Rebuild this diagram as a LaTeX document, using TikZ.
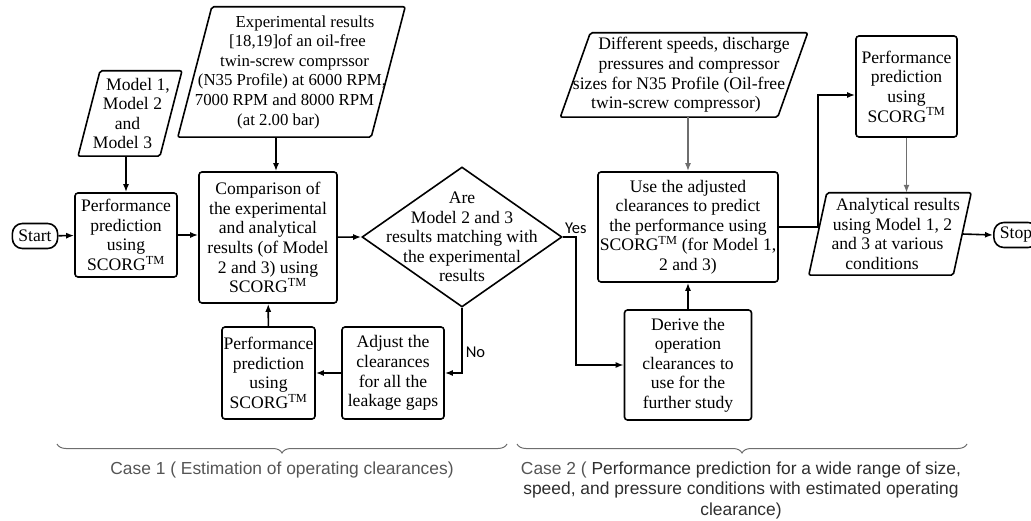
\documentclass[tikz,border=0pt]{standalone}
\usepackage{fontspec}
\setmainfont{Liberation Serif}
\newfontfamily\casefont{Liberation Sans}
\newfontfamily\yesnofont{Carlito}
\usetikzlibrary{arrows.meta,decorations.pathreplacing,shapes.geometric}

\definecolor{greyline}{HTML}{6E6E6E}
\definecolor{casegrey}{HTML}{555555}
\definecolor{casedark}{HTML}{2E2E2E}

\newcommand{\flowfont}{\fontsize{17.6}{19.6}\selectfont}
\newcommand{\scorg}{SCORG\textsuperscript{TM}}
% slanted frame round an io node: node name, half of the slant
\newcommand{\ioframe}[2]{\draw[line width=1.6pt,rounded corners=2pt] ([xshift=-#2pt]#1.south west) -- ([xshift=-#2pt]#1.south east) -- ([xshift=#2pt]#1.north east) -- ([xshift=#2pt]#1.north west) -- cycle;}
% moves one centred line sideways by half of #1
\newcommand{\nudge}[1]{\hspace*{#1pt}}

\tikzset{
	box/.style={draw,rectangle,rounded corners=3pt,line width=1.6pt,align=center,inner sep=1pt,font=\flowfont},
	term/.style={draw,rectangle,rounded corners=10pt,line width=1.6pt,minimum height=25pt,inner xsep=6pt,inner ysep=2pt,font=\flowfont},
	io/.style={rectangle,align=center,inner sep=1pt,font=\flowfont},
	ask/.style={draw,diamond,line width=1.6pt,inner sep=0pt},
	txt/.style={align=center,font=\flowfont},
	arr/.style={line width=1.6pt,-{Latex[length=8pt,width=6pt]}},
	yn/.style={font=\yesnofont\fontsize{16.5}{18}\selectfont,inner sep=3pt},
	brace/.style={greyline,line width=1pt,decorate,decoration={brace,mirror,amplitude=9pt}},
}

\begin{document}
\begin{tikzpicture}[x=1pt,y=-1pt]
\useasboundingbox (0,0) rectangle (1031,521);

% Case 1
\path (35,236) node[term](start){Start};
\path (130,113.5) node[io,minimum width=66,minimum height=85](models){\nudge{16}Model 1,\\\nudge{5}Model 2\\\nudge{-5}and\\\nudge{-15}Model 3};
\ioframe{models}{11}
\path (291.5,72) node[io,minimum width=193,minimum height=130,font=\fontsize{16.8}{19.6}\selectfont](exp){\nudge{27}Experimental results\\\nudge{12}{[}18,19{]}of an oil-free\\\nudge{6}twin-screw comprssor\\\nudge{1}(N35 Profile) at 6000 RPM,\\\nudge{-14}7000 RPM and 8000 RPM\\\nudge{-26}(at 2.00 bar)};
\ioframe{exp}{17}
\path (126,235) node[box,minimum width=102,minimum height=84](perfA){Performance\\prediction\\using\\\scorg};
\path (268,237.5) node[box,minimum width=138,minimum height=131](comp){Comparison of\\the experimental\\and analytical\\results (of Model\\2 and 3) using\\\scorg};
\path (462,237) node[ask,minimum width=200,minimum height=140,
	label={[txt]center:Are\\Model 2 and 3\\results matching with\\the experimental\\results}](dec){};
\path (393,373) node[box,minimum width=102,minimum height=92](adjust){Adjust the\\clearances\\for all the\\leakage gaps};
\path (268.5,373) node[box,minimum width=93,minimum height=92](perfB){Performance\\prediction\\using\\\scorg};

% Case 2
\path (684,75) node[io,minimum width=217,minimum height=84](diff){\nudge{20}Different speeds, discharge\\\nudge{10}pressures and compressor\\\nudge{-10}sizes for N35 Profile (Oil-free\\\nudge{-16}twin-screw compressor)};
\ioframe{diff}{15}
\path (688,227) node[box,minimum width=180,minimum height=110](use){Use the adjusted\\clearances to predict\\the performance using\\\scorg{} (for Model 1,\\2 and 3)};
\path (688,365) node[box,minimum width=127,minimum height=110](derive){Derive the\\operation\\clearances to\\use for the\\further study};
\path (906.5,86.5) node[box,minimum width=101,minimum height=101](perfC){Performance\\prediction\\using\\\scorg};
\path (890,234) node[io,minimum width=144,minimum height=82](anal){\nudge{16}Analytical results\\\nudge{5}using Model 1, 2\\\nudge{-5}and 3 at various\\\nudge{-16}conditions};
\ioframe{anal}{9}
\path (1016,235) node[term](stop){Stop};

\draw[arr] (start) -- (perfA);
\draw[arr] (models.south -| perfA.north) -- (perfA.north);
\draw[arr] ([xshift=-15.5pt]exp.south) -- ([xshift=8pt]comp.north);
\draw[arr] (perfA) -- (perfA -| comp.west);
\draw[arr] (comp) -- (dec.west);
\draw[arr] (dec.east) -- ++(13,0) node[yn,above]{Yes} |- (derive.west);
\draw[arr] (dec.south) |- (adjust.east) node[yn,right,pos=0.34]{No};
\draw[arr] (adjust) -- (perfB);
\draw[arr] (perfB) -- (comp);
\draw[arr] (derive) -- (use);
\draw[arr,greyline] (diff.south -| use.north) -- (use.north);
\draw[arr] (use.east) -- ++(39,0) |- ([yshift=-8.5pt]perfC.west);
\draw[arr,greyline] (perfC.south) -- (perfC.south |- anal.north);
\draw[arr] (anal.east) -- (stop.west);

% braces
\draw[brace] (57,444) -- (507,444);
\draw[brace] (517,444) -- (967,444);
\path (282,470) node[font=\casefont\fontsize{17.4}{20.5}\selectfont,text=casegrey](case1){Case 1 ( Estimation of operating clearances)};
\path (741,490) node[align=center,font=\casefont\fontsize{17.4}{20.5}\selectfont,text=casedark](case2){{\color{casegrey}Case 2 (} Performance prediction for a wide range of size,\\speed, and pressure conditions with estimated operating\\clearance)};
\end{tikzpicture}
\end{document}
